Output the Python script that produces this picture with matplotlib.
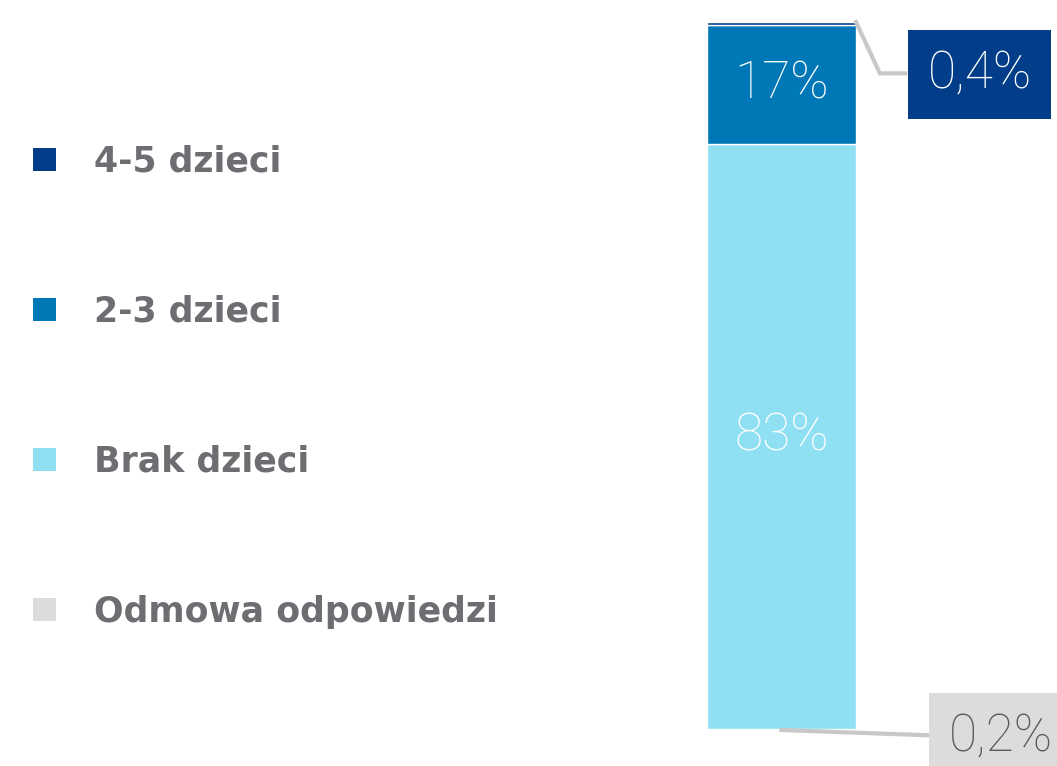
import matplotlib.pyplot as plt
from matplotlib.patches import Patch

categories = ["Odmowa odpowiedzi", "Brak dzieci", "2-3 dzieci", "4-5 dzieci"]
values = [0.2, 83, 17, 0.4]
labels = ["0,2%", "83%", "17%", "0,4%"]
colors = ["#dcdcdc", "#8fe0f2", "#0077b6", "#023d8a"]

W, H = 1057, 766
fig = plt.figure(figsize=(W / 100, H / 100), dpi=100)

# axes sized so the single stacked bar fills it
total = sum(values)
ax = fig.add_axes([707 / W, (H - 730) / H, (856 - 707) / W, 708 / H])
ax.set_xlim(-0.5, 0.5)
ax.set_ylim(0, total)
ax.axis("off")

bottom = 0
bars = []
for cat, v, c in zip(categories, values, colors):
    ax.bar(0, v, width=1, bottom=bottom, color=c, edgecolor="white",
           linewidth=1, label=cat)
    bars.append((bottom, v))
    bottom += v

valfont = dict(family="Roboto", weight="light", fontsize=37)

# labels inside the two big segments
for i in (1, 2):
    b0, v = bars[i]
    ax.text(0, b0 + v / 2, labels[i], color="white", ha="center", va="center", **valfont)

# small segment on top: label box with leader line
b0, v = bars[3]
ax.plot([0.5, 0.66, 0.83], [b0 + v, total - 7.3, total - 7.3], color="#c8c8c8",
        lw=3, clip_on=False, solid_joinstyle="miter")
ax.text(1.33, total - 7.5, labels[3], color="white", ha="center", va="center",
        clip_on=False, **valfont,
        bbox=dict(boxstyle="square,pad=0.38", fc=colors[3], ec="none"))

# small segment at the bottom
b0, v = bars[0]
ax.plot([0.0, 0.98], [b0, -0.75], color="#c8c8c8", lw=3, clip_on=False)
ax.text(1.47, -1.1, labels[0], color="#595959", ha="center", va="center",
        clip_on=False, **valfont,
        bbox=dict(boxstyle="square,pad=0.38", fc=colors[0], ec="none"))

handles = [Patch(facecolor=c, edgecolor="none", label=cat)
           for cat, c in zip(categories, colors)][::-1]
leg = fig.legend(handles=handles, loc="upper left", bbox_to_anchor=(33 / W, 1 - 145 / H),
                 frameon=False, prop=dict(family="DejaVu Sans", weight="bold", size=25),
                 labelspacing=3.34, handlelength=0.65, handleheight=0.65,
                 handletextpad=1.12, borderpad=0, borderaxespad=0)
for t in leg.get_texts():
    t.set_color("#6d6e71")

fig.savefig("out.png", dpi=100)
